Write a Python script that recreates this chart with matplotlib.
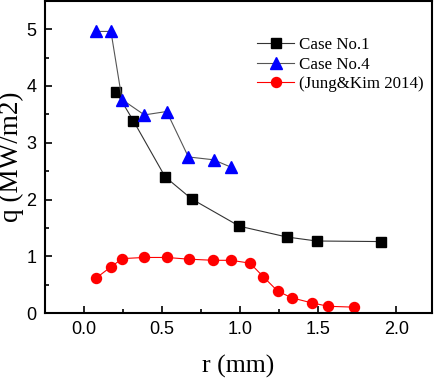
import matplotlib
matplotlib.use("Agg")
import matplotlib.pyplot as plt
from matplotlib.ticker import MultipleLocator

case1_r = [0.207, 0.316, 0.52, 0.69, 0.996, 1.30, 1.49, 1.90]
case1_q = [3.89, 3.39, 2.40, 2.01, 1.53, 1.34, 1.27, 1.26]

case4_r = [0.079, 0.173, 0.244, 0.387, 0.53, 0.669, 0.83, 0.942]
case4_q = [4.96, 4.96, 3.76, 3.49, 3.55, 2.75, 2.70, 2.57]

jk_r = [0.079, 0.171, 0.246, 0.387, 0.53, 0.671, 0.829, 0.942, 1.064, 1.149, 1.24, 1.33, 1.46, 1.566, 1.733]
jk_q = [0.62, 0.81, 0.96, 0.98, 0.98, 0.95, 0.93, 0.93, 0.88, 0.64, 0.39, 0.27, 0.18, 0.12, 0.105]

fig = plt.figure(figsize=(4.36, 3.80), dpi=100)
ax = fig.add_axes([0.103, 0.176, 0.888, 0.822])

ax.plot(case1_r, case1_q, color="#333333", lw=0.8, marker="s", ms=6.5,
        mfc="black", mec="black", label="Case No.1")
ax.plot(case4_r, case4_q, color="#555555", lw=0.8, marker="^", ms=8.5,
        mfc="blue", mec="blue", label="Case No.4")
ax.plot(jk_r, jk_q, color="red", lw=0.8, marker="o", ms=7.2,
        mfc="red", mec="red", label="(Jung&Kim 2014)")

ax.set_xlim(-0.25, 2.23)
ax.set_ylim(0, 5.5)
ax.xaxis.set_major_locator(MultipleLocator(0.5))
ax.xaxis.set_minor_locator(MultipleLocator(0.25))
ax.yaxis.set_major_locator(MultipleLocator(1))
ax.yaxis.set_minor_locator(MultipleLocator(0.5))
ax.tick_params(which="major", direction="in", length=5, width=1.2,
               labelsize=13, pad=6)
ax.tick_params(which="minor", direction="in", length=3, width=1.2)
for lab in ax.get_xticklabels() + ax.get_yticklabels():
    lab.set_fontfamily("Liberation Sans")
for s in ax.spines.values():
    s.set_linewidth(1.5)

ax.set_xlabel("r (mm)", fontfamily="Liberation Serif", fontsize=18.5, labelpad=12)
ax.set_ylabel("q (MW/m2)", fontfamily="Liberation Serif", fontsize=19.5, labelpad=2)

leg = ax.legend(loc="upper left", bbox_to_anchor=(0.53, 0.905), frameon=False,
                prop={"family": "Liberation Serif", "size": 12.2},
                handlelength=2.2, handletextpad=0.3, labelspacing=0.2,
                borderaxespad=0)

fig.savefig("out.png", dpi=100)
